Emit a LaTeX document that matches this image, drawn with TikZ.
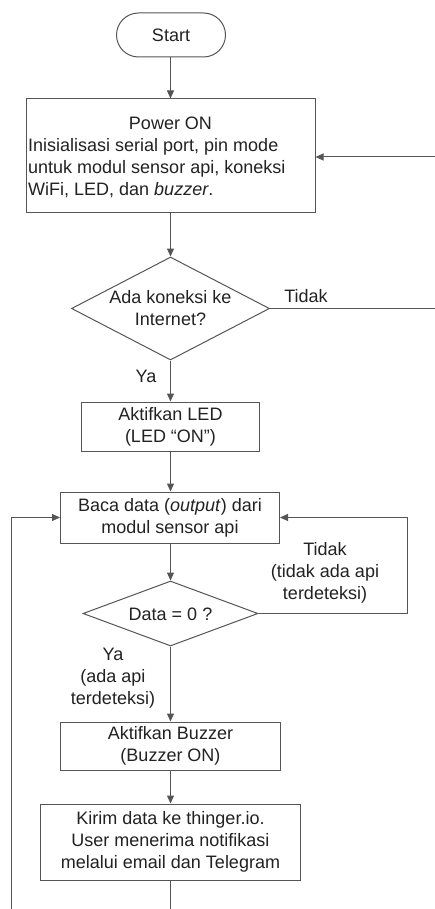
\documentclass[tikz,border=0pt]{standalone}
\usepackage{fontspec}
\setmainfont{Liberation Sans}
\usetikzlibrary{shapes.geometric,arrows.meta}
\definecolor{ln}{HTML}{555555}
\definecolor{tx}{HTML}{222222}
\begin{document}
\begin{tikzpicture}[x=1pt,y=-1pt,
  every node/.style={font=\fontsize{18}{22}\selectfont, text=tx},
  box/.style={draw=ln, line width=1pt, rectangle, inner sep=0pt, align=center},
  dia/.style={draw=ln, line width=1pt, diamond, inner sep=0pt},
  conn/.style={draw=ln, line width=1pt},
  arr/.style={conn, -{Triangle[length=8pt,width=7pt]}}]
\useasboundingbox (0,0) rectangle (435,909);
\fill[white] (0,0) rectangle (435,909);

\node[box, rounded corners=22pt, minimum width=109pt, minimum height=44pt] (start) at (171,35) {Start};
\node[box, minimum width=289pt, minimum height=114pt] (pw) at (170.5,156) {};
\node (pwt) at (170.5,123) {Power ON};
\node[anchor=west, align=left, inner sep=0pt] (pwb) at (28,168) {Inisialisasi serial port, pin mode\\untuk modul sensor api, koneksi\\WiFi, LED, dan \textit{buzzer}.};

\node[dia, minimum width=198pt, minimum height=103pt] (d1) at (170.5,308.5) {};
\node[align=center] (d1t) at (170.5,308) {Ada koneksi ke\\Internet?};
\node (tid1) at (306,296) {Tidak};
\node (ya1) at (146,376) {Ya};

\node[box, minimum width=178pt, minimum height=49pt] (led) at (170.5,426.5) {Aktifkan LED\\(LED “ON”)};
\node[box, minimum width=219pt, minimum height=51pt] (baca) at (170,517.5) {Baca data (\textit{output}) dari\\modul sensor api};

\node[dia, minimum width=175pt, minimum height=65pt] (d2) at (170.5,613.5) {};
\node (d2t) at (170.5,614) {Data = 0 ?};
\node[align=center] (tid2) at (325,573) {Tidak\\(tidak ada api\\terdeteksi)};
\node[align=center] (ya2) at (113,678) {Ya\\(ada api\\terdeteksi)};

\node[box, minimum width=220pt, minimum height=48pt] (buz) at (170.5,746) {Aktifkan Buzzer\\(Buzzer ON)};
\node[box, minimum width=260pt, minimum height=76pt] (kir) at (170.5,842) {Kirim data ke thinger.io.\\User menerima notifikasi\\melalui email dan Telegram};

\coordinate (e1) at (435,308.5);
\coordinate (e2) at (435,157);
\coordinate (r3) at (407,517.5);
\coordinate (bot) at (170.5,909);
\coordinate (l1) at (11,909);

\draw[arr] (start.south -| pw.north) -- (pw.north);
\draw[arr] (pw.south) -- (d1.north);
\draw[arr] (d1.south) -- (led.north);
\draw[conn] (d1.east) -- (e1);
\draw[arr] (e2) -- (e2 -| pw.east);
\draw[arr] (led.south) -- (led.south |- baca.north);
\draw[arr] (baca.south -| d2.north) -- (d2.north);
\draw[arr] (d2.east) -| (r3) -- (baca.east);
\draw[arr] (d2.south) -- (buz.north);
\draw[arr] (buz.south) -- (kir.north);
\draw[conn] (kir.south) -- (bot);
\draw[arr] (l1) |- (baca.west);
\end{tikzpicture}
\end{document}
